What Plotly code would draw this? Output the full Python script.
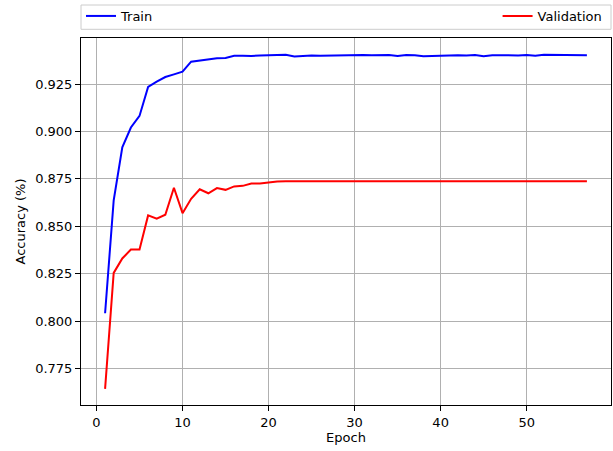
import plotly.graph_objects as go

epochs = list(range(1, 58))
train_acc = [0.8041, 0.8636, 0.8916, 0.9021, 0.9082, 0.9235, 0.9263, 0.9287, 0.9301, 0.9315,
             0.9368, 0.9375, 0.9380, 0.9386, 0.9387, 0.9399, 0.9399, 0.9398, 0.9401, 0.9401,
             0.9403, 0.9404, 0.9396, 0.9400, 0.9401, 0.9400, 0.9401, 0.9401, 0.9402, 0.9401,
             0.9403, 0.9402, 0.9402, 0.9403, 0.9398, 0.9403, 0.9402, 0.9397, 0.9398, 0.9400,
             0.9401, 0.9402, 0.9401, 0.9403, 0.9397, 0.9402, 0.9402, 0.9401, 0.9401, 0.9403,
             0.9399, 0.9404, 0.9404, 0.9404, 0.9402, 0.9403, 0.9402]
val_acc = [0.7642, 0.8254, 0.8330, 0.8377, 0.8377, 0.8557, 0.8540, 0.8561, 0.8703, 0.8569,
           0.8645, 0.8695, 0.8674, 0.8701, 0.8692, 0.8710, 0.8713, 0.8725, 0.8725, 0.8732,
           0.8736, 0.8737, 0.8737, 0.8738, 0.8738, 0.8738, 0.8738, 0.8738, 0.8737, 0.8737,
           0.8737, 0.8737, 0.8737, 0.8737, 0.8737, 0.8737, 0.8737, 0.8737, 0.8737, 0.8737,
           0.8737, 0.8737, 0.8737, 0.8737, 0.8737, 0.8737, 0.8737, 0.8737, 0.8737, 0.8737,
           0.8737, 0.8737, 0.8737, 0.8737, 0.8737, 0.8737, 0.8737]
x_ticks = [0, 10, 20, 30, 40, 50]
y_ticks = [0.775, 0.800, 0.825, 0.850, 0.875, 0.900, 0.925]
y_tick_labels = ["0.775", "0.800", "0.825", "0.850", "0.875", "0.900", "0.925"]

FONT = "DejaVu Sans"

fig = go.Figure()
fig.add_trace(go.Scatter(x=epochs, y=train_acc, mode="lines", name="Train",
                         line=dict(color="#0000ff", width=2), legend="legend"))
fig.add_trace(go.Scatter(x=epochs, y=val_acc, mode="lines", name="Validation",
                         line=dict(color="#ff0000", width=2), legend="legend2"))

axis_common = dict(showline=True, linecolor="black", linewidth=1.1, mirror=True,
                   ticks="outside", ticklen=5, tickwidth=1.1, tickcolor="black",
                   showgrid=True, gridcolor="#b0b0b0", gridwidth=1.1, zeroline=False,
                   automargin=False,
                   tickfont=dict(family=FONT, size=13, color="black"))

fig.update_layout(
    width=613, height=451,
    margin=dict(l=81, r=2, t=38, b=46, autoexpand=False),
    paper_bgcolor="white", plot_bgcolor="white",
    font=dict(family=FONT, size=13, color="black"),
    xaxis=dict(range=[-1.8, 59.8], tickvals=x_ticks,
               title=dict(text="Epoch", font=dict(family=FONT, size=13), standoff=4),
               **axis_common),
    yaxis=dict(range=[0.7557, 0.9493], tickvals=y_ticks, ticktext=y_tick_labels,
               title=dict(text="Accuracy (%)", font=dict(family=FONT, size=13), standoff=6),
               **axis_common),
    legend=dict(x=0.0, y=1.06, xanchor="left", yanchor="middle", orientation="h",
                bgcolor="rgba(0,0,0,0)", font=dict(family=FONT, size=13)),
    legend2=dict(x=0.786, y=1.06, xanchor="left", yanchor="middle", orientation="h",
                 bgcolor="rgba(0,0,0,0)", font=dict(family=FONT, size=13)),
    shapes=[dict(type="rect", xref="paper", yref="paper", x0=0.0, x1=1.0,
                 y0=1.0237, y1=1.0899, line=dict(color="#cccccc", width=1),
                 fillcolor="rgba(255,255,255,0.8)", layer="below")],
    showlegend=True,
)

fig.write_html("out.html", config={"displayModeBar": False},
               post_script="document.body.style.margin='0';document.body.style.overflow='hidden';")
